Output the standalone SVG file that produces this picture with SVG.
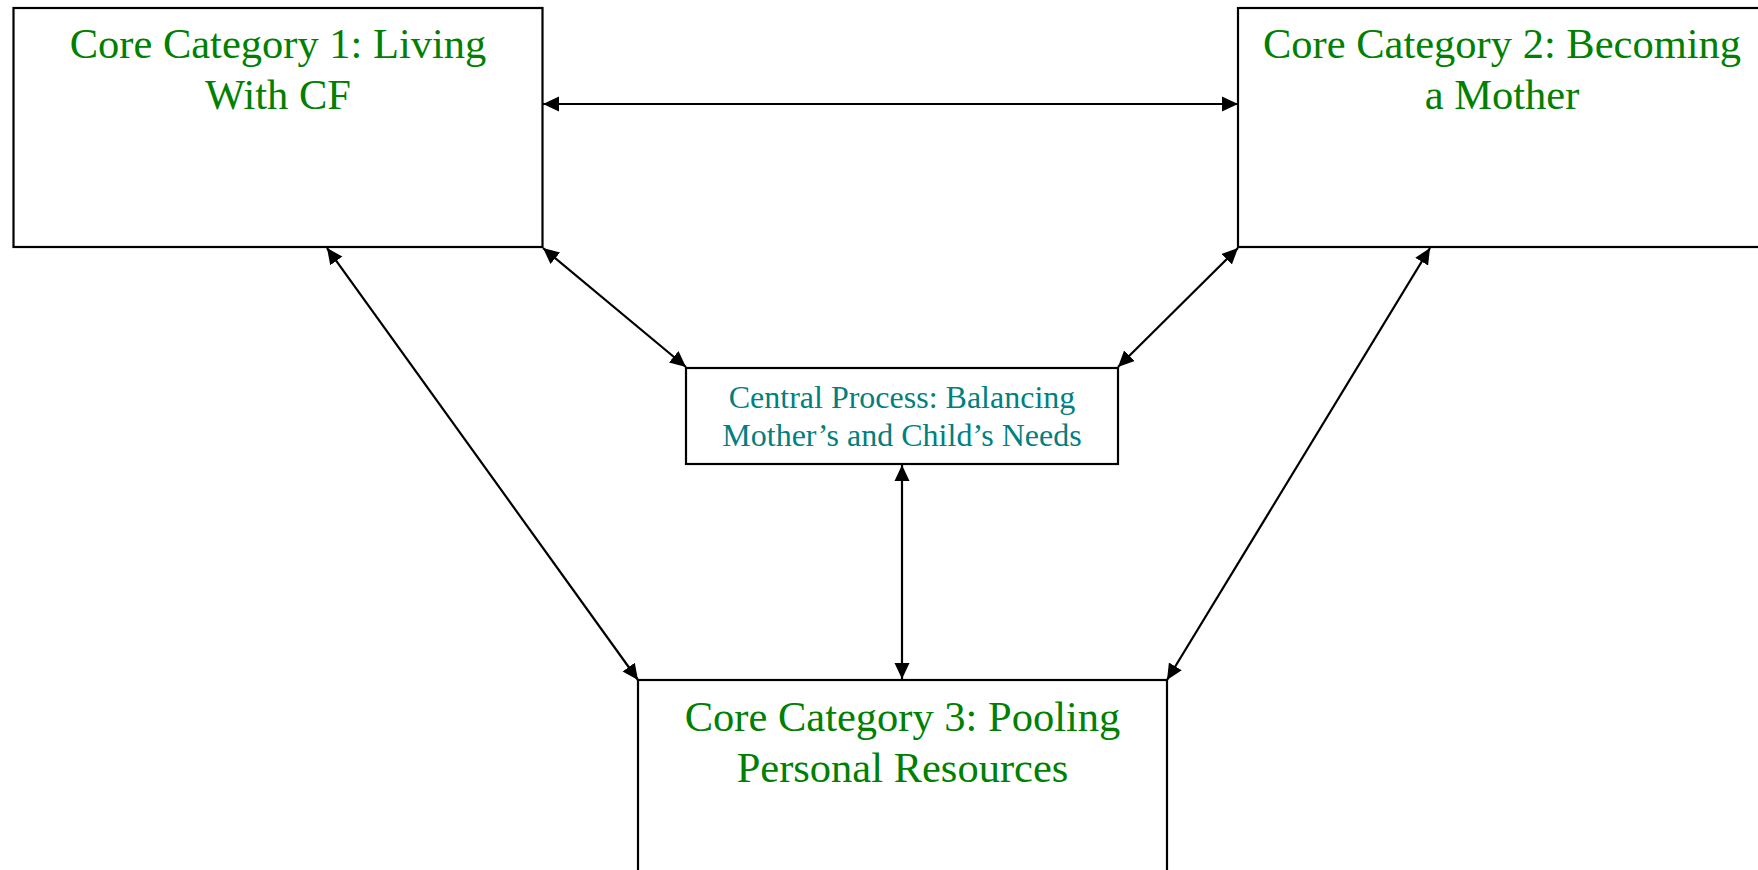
<svg xmlns="http://www.w3.org/2000/svg" width="1758" height="870" viewBox="0 0 1758 870">
<style>
.box{fill:#fff;stroke:#000;stroke-width:2.2}
.cat{font-family:"Liberation Serif","Times New Roman",serif;font-size:42.5px;fill:#008000;text-anchor:middle}
.cen{font-family:"Liberation Serif","Times New Roman",serif;font-size:32px;fill:#008080;text-anchor:middle}
.con{stroke:#000;stroke-width:2.2;fill:none;marker-start:url(#ah);marker-end:url(#ah)}
</style>
<defs>
<marker id="ah" markerUnits="userSpaceOnUse" markerWidth="18" markerHeight="18" viewBox="0 0 18 18" refX="16" refY="9" orient="auto-start-reverse">
<path d="M0,1.5 L16,9 L0,16.5 Z" fill="#000"/>
</marker>
</defs>
<rect width="1758" height="870" fill="#fff"/>
<g id="node-cat1">
<rect class="box" x="13.5" y="8" width="529" height="239"/>
<text class="cat" x="278" y="58">Core Category 1: Living</text>
<text class="cat" x="278" y="109">With CF</text>
</g>
<g id="node-cat2">
<rect class="box" x="1238" y="8" width="529" height="239"/>
<text class="cat" x="1502" y="58">Core Category 2: Becoming</text>
<text class="cat" x="1502" y="109">a Mother</text>
</g>
<g id="node-central">
<rect class="box" x="686" y="368" width="432" height="96"/>
<text class="cen" x="902" y="408">Central Process: Balancing</text>
<text class="cen" x="902" y="446">Mother’s and Child’s Needs</text>
</g>
<g id="node-cat3">
<rect class="box" x="638" y="680" width="529" height="200"/>
<text class="cat" x="902.5" y="731">Core Category 3: Pooling</text>
<text class="cat" x="902.5" y="782">Personal Resources</text>
</g>
<g id="connectors">
<line class="con" x1="543" y1="104" x2="1238" y2="104"/>
<line class="con" x1="327" y1="248" x2="638" y2="680"/>
<line class="con" x1="543" y1="248" x2="686" y2="367"/>
<line class="con" x1="1238" y1="248" x2="1118" y2="367"/>
<line class="con" x1="1430" y1="248" x2="1167" y2="680"/>
<line class="con" x1="902" y1="465" x2="902" y2="679"/>
</g>
</svg>
